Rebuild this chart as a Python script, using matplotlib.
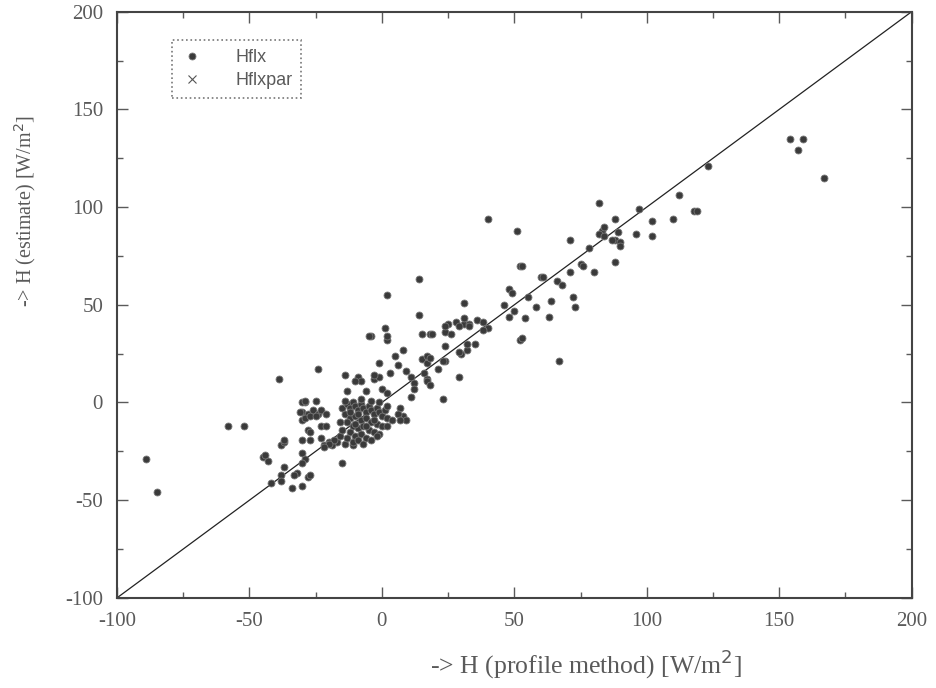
import matplotlib.pyplot as plt
from matplotlib.ticker import MultipleLocator

plt.rcParams['axes.unicode_minus'] = False

# Hflx points (profile method, estimate)
hflx_x = [-89, -85, -58, -52, -39, -45, -43, -44, -42, -38, -37, -37, -38, -38, -37, -34, -30, -32,
          -33, -28, -27, -30, -29, -30, -30, -28, -27, -29, -30, -30, -26, -31, -28, -29, -27, -26,
          -24, -23, -25, -21, -30, -29, -25, -24, -23, -21, -27, -23, -20, -17, -14, -11, -22, -19,
          -16, -15,
          -15, -13, -12, -11, -10, -9, -8, -7, -6, -5, -4, -3, -2, -1, 0, 1, 2, -14, -12, -10, -8,
          -6, -4, -2, 0, -13, -11, -9, -7, -5, -3, -1, -12, -10, -8, -6, -4, -2, -15, -13, -11, -9,
          -7, -16, -14, -8, -4, -1, 2, -10, -6, -3, -9, -12, -18, -20, -22,
          -13, -6, 0, 2, -3, -1, -3, -9, -8, -10, -14, -1, 6, 5, 8, -4, 2, 1, 2, 14, 14, -5, 2, 3,
          7, 8, 6, 9, 4, 7, 2, 9, 11, 12, 12, 11, 16, 17, 15, 17, 17, 18, 21, 24, 23, 17, 18, 18,
          15, 19, 24, 24, 25, 26, 24, 23, 29, 30, 29, 32, 31, 33, 28, 31, 33, 29, 36, 38, 40, 38,
          32, 35, 31, 40, 46, 48, 49, 48, 50, 51, 52, 53, 52, 53, 54, 55, 58, 60, 61, 63, 64, 66,
          68, 67, 71, 71, 72, 73, 75, 76, 78, 80, 82, 83, 84, 82, 84, 88, 89, 88, 90, 90, 87, 96,
          97, 102, 102, 110, 112, 118, 119, 123, 154, 159, 157, 167, 88]
hflx_y = [-29, -46, -12, -12, 12, -28, -30, -27, -41, -22, -20, -19, -37, -40, -33, -44, -43, -36,
          -37, -38, -37, -26, -29, -31, -19, -14, -15, 0, -5, -9, -5, -5, -6, -8, -7, -4,
          -6, -4, -7, -6, 0, 1, 1, 17, -12, -12, -19, -18, -20, -20, -21, -22, -22, -22,
          -17, -31,
          -3, -1, -3, 0, -2, -4, -1, -3, -5, -2, -4, -6, -3, -5, -7, -4, -8, -6, -8, -7, -9,
          -8, -10, -11, -12, -10, -12, -13, -12, -14, -15, -16, -15, -17, -16, -18, -19, -17, -14, -18, -20, -19,
          -21, -10, 1, 2, 1, 0, -2, -11, -12, -9, -6, -5, -19, -21, -23,
          6, 6, 7, 5, 12, 13, 14, 13, 11, 11, 14, 20, 19, 24, 27, 34, 32, 38, 55, 63, 45, 34, 34, 15,
          -3, -7, -6, -9, -9, -9, -12, 16, 13, 10, 7, 3, 15, 12, 22, 20, 24, 23, 17, 21, 2, 11, 9, 35,
          35, 35, 36, 29, 40, 35, 39, 21, 13, 25, 26, 27, 40, 40, 41, 43, 39, 39, 42, 41, 38, 37,
          30, 30, 51, 94, 50, 58, 56, 44, 47, 88, 70, 70, 32, 33, 43, 54, 49, 64, 64, 44, 52, 62,
          60, 21, 67, 83, 54, 49, 71, 70, 79, 67, 102, 88, 90, 86, 85, 94, 87, 83, 82, 80, 83, 86,
          99, 93, 85, 94, 106, 98, 98, 121, 135, 135, 129, 115, 72]

# Hflxpar has no visible points in the picture, only the legend entry
hflxpar_x = []
hflxpar_y = []

fig = plt.figure(figsize=(9.36, 6.88), dpi=100)
ax = fig.add_axes([0.125, 0.131, 0.849, 0.852])

grey = '#5a5a5a'

# 1:1 line
ax.plot([-100, 200], [-100, 200], color='#222222', lw=0.9, zorder=1)

ax.plot(hflx_x, hflx_y, 'o', ms=5, color='#3a3a3a', mec='#777777', mew=0.6, label='Hflx', zorder=2)
ax.plot(hflxpar_x, hflxpar_y, 'x', ms=6, color='#555555', mew=0.8, label='Hflxpar')

ax.set_xlim(-100, 200)
ax.set_ylim(-100, 200)
ax.xaxis.set_major_locator(MultipleLocator(50))
ax.yaxis.set_major_locator(MultipleLocator(50))
ax.xaxis.set_minor_locator(MultipleLocator(25))
ax.yaxis.set_minor_locator(MultipleLocator(25))
ax.tick_params(which='both', direction='in', top=True, right=True, colors=grey,
               labelcolor=grey, labelsize=15, width=1.0)
ax.tick_params(which='major', length=8, pad=10)
ax.tick_params(which='minor', length=4)
for lab in ax.get_xticklabels() + ax.get_yticklabels():
    lab.set_family('Liberation Serif')
for sp in ax.spines.values():
    sp.set_color('#444444')
    sp.set_linewidth(1.5)

ax.set_xlabel('-> H (profile method) [W/m$^2$]', family='Liberation Serif', fontsize=18.5,
              color=grey, labelpad=8)
ax.xaxis.set_label_coords(0.59, -0.085)
ax.set_ylabel('-> H (estimate) [W/m$^2$]', family='Liberation Serif', fontsize=14.5,
              color=grey, labelpad=14)
ax.yaxis.set_label_coords(-0.1, 0.66)

leg = ax.legend(loc='upper left', bbox_to_anchor=(0.069, 0.952), borderaxespad=0, frameon=True,
                fancybox=False, prop={'family': 'Liberation Sans', 'size': 13}, handletextpad=1.8,
                borderpad=0.5, labelspacing=0.35, handlelength=1.2)
leg.get_frame().set_edgecolor('#555555')
leg.get_frame().set_linestyle(':')
leg.get_frame().set_linewidth(1.2)
for t in leg.get_texts():
    t.set_color(grey)

plt.savefig('out.png', dpi=100)
